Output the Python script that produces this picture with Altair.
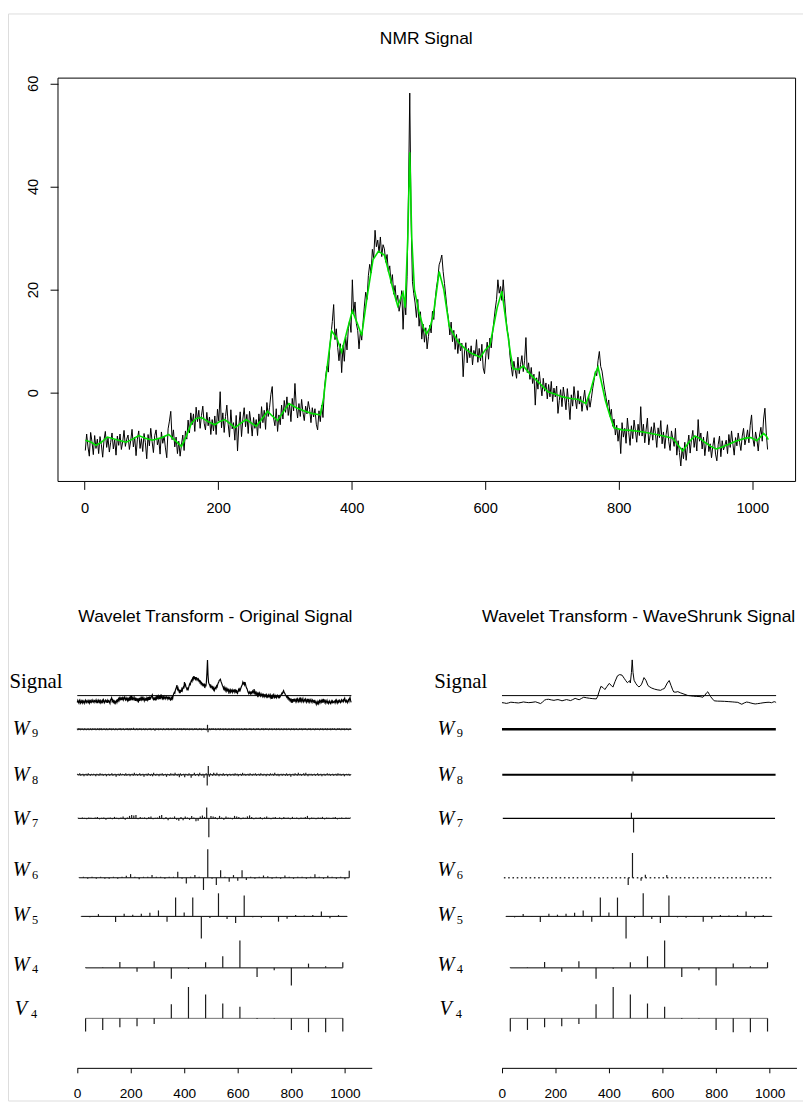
import altair as alt
import pandas as pd

# ------------------------------------------------------------------
# DATA
# ------------------------------------------------------------------
# Top panel: noisy NMR signal, every 2nd sample, 16 blocks of 64 samples
nmr_block_0 = [-11.2,-8,-10.5,-12.3,-7.7,-9.5,-12,-8.3,-10.8,-9,-11.8,-8.5,-10,-12.5,-9.2,-7.5,-10.6,-8.8,-11.5,-9.6,-7.8,-10.9,-9.1,-12.1,-8.4,-10.2,-8,-11,-9.5,-7.3,-10.4,-9]
nmr_block_1 = [-8.2,-11,-9.3,-7.1,-10.5,-8.6,-12.2,-9,-7.4,-10.8,-8.9,-11.4,-7.9,-9.7,-12.8,-8.1,-10.3,-6.9,-9.4,-11.6,-8.3,-7.2,-10.1,-9,-11.9,-7.6,-9.8,-8.4,-10.7,-12.6,-7,-5.5]
nmr_block_2 = [-3.6,-9.1,-7.2,-10.5,-8.6,-11.8,-9.4,-12.3,-10.1,-8.2,-11.2,-7.4,-9,-5.3,-7.8,-3.9,-6.2,-4.1,-7.5,-2.8,-5.6,-3.4,-6.9,-4.4,-2.6,-5.9,-7.2,-3.8,-6.4,-4.7,-8.1,-5.2]
nmr_block_3 = [-7.4,-4.5,-8.1,-3.2,-5.5,0.2,-6.8,-3.9,-7.7,-4.6,-2.4,-6.1,-8.6,-3.3,-7,-5.8,-9.2,-4.4,-11.3,-6.3,-3.7,-8.5,-5.1,-2.9,-6.6,-4.2,-7.9,-3.6,-5.7,-8.4,-4.8,-6.9]
nmr_block_4 = [-5.2,-8.3,-4.1,-6.9,-2.7,-5.8,-3.4,-7.1,-1.9,-4.6,-2.8,-0.3,1.2,-4.9,-6.4,-3.1,-7.5,-4.3,-6.2,-2.4,-5.1,-1.5,-3.8,-0.8,-4.4,-2.2,-5.6,-1.1,-3.5,1.8,-2.7,-4.9]
nmr_block_5 = [-2.1,-4.6,-1.3,-3.8,-5.4,-2.6,-4.1,-1.7,-3.2,-5.8,-2.9,-4.7,-3.1,-6.1,-7.2,-3.5,-5.6,-2.4,-4.8,0.5,3.2,5.1,4,8.6,11.2,13.8,17.1,10.3,12.4,8.8,6.2,9.5]
nmr_block_6 = [3.9,9.2,6.1,10.8,8.3,12.5,14.1,11.7,21.9,15.2,17.6,13.4,12.1,8.5,11.9,10.2,13.6,16.8,19.5,18.1,22.7,24.9,23.2,27.8,26.1,31.5,28.3,29.6,27.1,30.2,26.4,28.7]
nmr_block_7 = [27.9,25.3,26.8,23.4,24.6,21.2,22.9,19.1,20.8,17.6,18.9,15.8,17.2,19.8,12.3,18.4,15.1,22.5,38,58.1,33.5,21.6,19.2,17.4,14.6,18.1,12.9,15.7,10.4,13.3,9.8,12.6]
nmr_block_8 = [8.5,10.9,13.1,11.6,15.8,14.2,17.9,20.4,22.1,24.8,25.6,26.7,23.5,21.2,18.7,16.1,14.3,11.2,13.7,9.9,12.1,8.4,11.3,7.6,10.5,8.1,9.6,3.1,7.9,9.7,5.8,8.6]
nmr_block_9 = [6.8,9.1,5.4,8.2,7.1,10.3,5.9,8.6,6.2,9.4,4.8,3.7,7.3,9.8,6.5,10.6,8.7,11.5,13.9,16.2,18.1,21.9,19.3,20.6,17.9,21.9,18.2,14.7,12.1,10.8,7.3,5.1]
nmr_block_10 = [3.2,6.1,4.4,2.8,6.9,3.7,5.5,7.2,4.1,6.3,10.7,3.9,5.8,2.6,4.9,1.8,3.6,-2.4,2.9,0.7,4.1,1.5,-0.6,2.8,0.3,1.9,-1.2,1.6,-0.8,2.2,-1.7,0.9]
nmr_block_11 = [-0.8,1.3,-4,-1.5,0.6,-2.7,1.1,-0.9,-3.3,0.8,-1.9,-5.2,-0.4,-2.6,1.2,-1.3,-3.1,0.4,-2.2,-0.7,-3.6,-1.4,0.5,-2.3,-3.4,-0.6,-2.8,-1.1,0.8,2.4,4.1,3.3]
nmr_block_12 = [6.2,8,5.1,4.2,2.3,0.6,-0.9,-2.8,-1.4,-4.6,-3.2,-6.5,-5.1,-8.2,-6.3,-9.4,-7.1,-11.8,-5.8,-8.6,-6.9,-9.8,-4.9,-7.7,-10.2,-6.4,-8.9,-5.3,-7.4,-9.6,-6.1,-8.3]
nmr_block_13 = [-2.7,-8.4,-6.1,-9.7,-7.2,-4.9,-10.1,-8.3,-6.6,-9.2,-5.8,-7.9,-10.6,-6.8,-8.7,-5.4,-9.9,-7.6,-10.8,-8.1,-6.2,-9.5,-11.2,-7.4,-8.9,-10.4,-6.9,-12.1,-9.3,-11.6,-14.2,-10.7]
nmr_block_14 = [-12.8,-9.6,-13.1,-10.4,-8.2,-11.7,-9.1,-7.3,-10.6,-8.5,-11.3,-5.2,-9.4,-7.8,-10.9,-8.6,-12.2,-9.8,-7.5,-11.4,-9.9,-12.6,-10.3,-8.7,-11.9,-13.2,-10.1,-8.4,-12.4,-9.3,-11.1,-10.2]
nmr_block_15 = [-9.2,-11.8,-8.1,-10.6,-7.4,-9.9,-12.1,-8.7,-10.3,-7.8,-9.6,-11.2,-8.4,-6.9,-10.1,-8.8,-7.2,-9.7,-6.3,-4.3,-8.9,-10.4,-7.6,-9.1,-11.3,-8.2,-6.7,-9.4,-5.1,-3,-7.8,-11]
nmr_blocks = [nmr_block_0, nmr_block_1, nmr_block_2, nmr_block_3, nmr_block_4, nmr_block_5,
              nmr_block_6, nmr_block_7, nmr_block_8, nmr_block_9, nmr_block_10, nmr_block_11,
              nmr_block_12, nmr_block_13, nmr_block_14, nmr_block_15]

# WaveShrunk (green) signal
smooth_x = [1,10,17,25,34,48,62,72,81,91,101,113,126,135,145,152,160,167,175,185,195,202,210,218,225,233,242,250,257,265,274,281,289,297,306,317,328,340,353,358,363,370,378,385,393,401,408,415,423,432,440,449,457,463,469,474,477,480,484,487,490,494,501,507,512,517,522,527,531,538,546,553,560,570,580,593,600,607,612,618,625,632,638,642,650,657,668,680,694,705,716,728,740,751,758,765,769,775,780,787,793,805,818,832,845,860,870,881,889,896,905,914,922,930,938,946,955,965,975,990,998,1007,1012,1017,1021,1024]
smooth_v = [-9.2,-9.6,-10.2,-9.6,-8.6,-9.1,-9.6,-9.0,-8.3,-8.8,-9.2,-8.8,-8.1,-9.2,-10.4,-8.5,-5.9,-5.0,-4.8,-5.6,-6.2,-5.6,-5.2,-6.0,-6.8,-6.0,-5.2,-5.9,-6.5,-5.2,-3.6,-4.5,-5.4,-3.8,-2.1,-2.9,-3.5,-4.0,-4.3,-1.0,4.7,12.0,10.5,7.9,12.0,15.9,13.6,11.1,18.5,25.8,27.4,26.7,22.6,19.5,16.8,18.5,19.4,16.5,30.0,46.6,30.0,20.0,15.5,12.8,11.4,12.5,14.9,19.5,23.5,20.0,13.0,11.2,9.8,8.5,7.6,6.9,8.3,9.2,12.5,16.5,19.7,13.0,7.5,4.7,4.5,5.2,3.5,2.0,0.2,-0.3,-0.8,-1.1,-1.3,-2.1,0.5,3.8,5.0,1.5,-1.5,-4.5,-6.8,-7.2,-7.3,-7.5,-7.8,-8.2,-8.5,-8.8,-10.2,-11.3,-9.6,-8.4,-8.9,-9.7,-10.4,-10.9,-10.5,-10.0,-9.4,-8.8,-8.7,-9.3,-8.6,-7.9,-8.4,-9.1]

top_x_ticks = [0, 200, 400, 600, 800, 1000]
top_y_ticks = [0, 20, 40, 60]
bottom_x_ticks = [0, 200, 400, 600, 800, 1000]

# Wavelet coefficients of the original signal (display heights, figure px)
w9_orig_halfpx = [
 1,-2,2,-1,1,2,-2,1,-1,2,-1,1,-2,1,2,-1,1,-2,1,-1,2,1,-2,1,-1,2,-1,-2,1,2,-1,1,
 -1,2,1,-2,1,-1,2,-1,1,-2,2,1,-1,2,-2,1,-1,1,2,-1,1,-2,1,2,-1,-2,1,-1,2,1,-1,2,
 -2,1,-1,2,1,-1,-2,1,2,-1,1,-2,1,-1,2,1,-1,2,-2,1,1,-1,2,-1,-2,1,-1,2,1,-1,2,-2,
 1,-1,2,-2,1,2,-1,1,-1,3,-1,1,-2,1,-1,2,1,-2,1,-1,2,-1,1,2,-2,1,-1,1,2,-1,-2,1,
 2,-1,1,-2,1,-1,2,1,-1,2,-2,1,-1,1,2,-1,1,-3,1,2,-1,1,-1,2,-2,1,1,-1,2,-1,1,-2,
 1,2,-1,1,-2,1,-1,2,1,-1,2,-2,1,-1,1,2,-2,1,-1,2,1,-1,2,-1,1,-2,1,2,-1,1,-1,2,
 -1,1,2,-2,1,-1,2,-1,1,2,-2,1,-1,2,1,-1,1,-2,2,-1,1,-1,2,1,-2,1,-1,2,-1,1,2,-1,
 1,-2,1,-1,2,1,-1,2,-2,1,-1,1,2,-1,1,-1,1,-2,1,9,-6,1,-1,2,-2,1,-1,2,1,-1,2,-1,
 1,-1,2,-2,1,-1,1,2,-1,1,-2,2,1,-1,1,-1,2,-2,1,1,-1,2,-1,1,-2,1,-1,2,1,-2,1,-1,
 2,-1,1,-2,2,1,-1,1,-2,1,2,-1,1,-1,2,-2,1,-1,1,2,-1,-2,1,-1,2,1,-1,2,-2,1,-1,1,
 -1,2,1,-1,2,-2,1,-1,1,2,-1,1,-2,1,-1,2,1,-1,2,-1,1,-2,1,-1,2,-1,1,2,-2,1,-1,2,
 1,-1,2,-1,1,-2,1,2,-1,1,-1,2,-2,1,1,-1,2,-1,1,-2,2,-1,1,-1,2,1,-2,1,-1,2,-1,1,
 -2,1,2,-1,1,-1,2,-2,1,-1,1,2,-1,1,-2,1,2,-1,1,-1,2,-2,1,1,-1,2,-1,1,-2,1,-1,2,
 1,-1,1,2,-2,1,-1,2,1,-1,2,-1,1,-2,1,-1,2,1,-1,2,-2,1,-1,1,2,-1,1,-2,1,2,-1,1,
 -1,2,-1,1,-2,1,2,-1,1,-1,2,-2,1,-1,1,2,-1,1,-2,2,1,-1,1,-1,2,-2,1,-1,2,1,-1,1,
 2,-1,1,-2,1,-1,2,1,-1,2,-1,1,-2,1,2,-1,1,-1,2,-2,1,-1,1,2,-1,1,-2,1,-1,2,1,-1]
w8_orig = [
 1,-0.5,1.5,-1,0.5,1,-1.5,0.5,1,-1,1.5,0.5,-1,1,-0.5,1,
 0.5,-1.5,1,0.5,-1,1.5,-0.5,1,-1,0.5,1,-1.5,0.5,1,-1,0.5,
 1.5,-1,0.5,1,-2,0.5,1,-1,1.5,-0.5,1,0.5,-1,1.5,-1,0.5,
 1,-1.5,0.5,1,-1,2,-0.5,1,-1,0.5,1.5,-1,0.5,1,-2,0.5,
 1,-1,1.5,0.5,-1,1,-1.5,2,0.5,-1,1,0.5,-1.5,1,-0.5,1.5,
 -1,0.5,1,-2,1,0.5,-1,1.5,-0.5,1,-1,2,0.5,-1,1,-2.5,
 1.5,-1,0.5,1,-2.5,1,0.5,-1,1.5,-0.5,-3,-1,0.5,2,-1,0.5,
 1,-1.5,2,0.5,-1,1,-3,0.5,1.5,-10.7,9,-2,1.5,0.5,-1,2,
 1,-1,2,0.5,-1.5,1,0.5,-1,1.5,-1,0.5,1,-1.5,0.5,1,-1,
 0.5,1,-1,1.5,-0.5,1,-1.5,0.5,1,-1,2,-0.5,1,-1,0.5,1,
 -1,1.5,0.5,-1,1,-0.5,1.5,-1,0.5,1,-1,1.5,0.5,-1,1,0.5,
 -1.5,1,0.5,-1,1.5,-0.5,1,-1,2,0.5,-1,1,-1.5,0.5,1,-1,
 1,0.5,-1,1.5,-1,0.5,1,-2,0.5,1,-1,1.5,0.5,-1,2,-0.5,
 1,-1,0.5,1.5,-1,2,0.5,-1.5,1,-0.5,1,-1,0.5,1,-1,0.5,
 1.5,-1,0.5,1,-1.5,0.5,1,-1,0.5,1.5,-0.5,1,-1,0.5,1,-1,
 0.5,1,-1,1.5,-0.5,1,-1,0.5,1,-1.5,0.5,1,-0.5,1,-1,0.5]
w7_orig = [
 0.5,-0.5,1,0.5,-1,1,0.5,-0.5,1,1.5,-1,0.5,1,-1.5,0.5,1,
 -1,1.5,0.5,-1,1,2,-1.5,1,2.5,3.5,3,3.5,-1,1.5,0.5,1,
 -1,1.5,2,-1,0.5,1,2.5,3.5,-1,1.5,-2,1,0.5,2,-1.5,-2.5,
 1.5,-2,2,1,-1.5,2.5,1,-3,-2.5,2,3,1.5,11,-19,2.5,2,
 1.5,-1,2.5,1,-1.5,2,1,0.5,-1,2.5,2,1.5,-1,1,0.5,2,
 3,1.5,-1,1,0.5,1.5,-1,1,2,0.5,-1,1,1.5,-0.5,1,-1,
 1.5,0.5,1,-1,1.5,0.5,1,-1,1,0.5,1.5,2.5,-1,1,0.5,-1,
 1,0.5,1.5,-1,1,0.5,-0.5,1,1.5,-1,0.5,1,-0.5,1,0.5,1]
w6_orig = [0.5,1,-1,1,-1,1,-1,-1,1,-1,1,2,3.7,1,-1.5,1,
           1,2.7,1,1,-1,1,1,6,-1,-5.7,1,2.7,1,-12.3,28.7,-1,
           -7.3,7.7,1,-4,2.7,-3,7.7,-2.3,1,-1,1,2.3,1.5,-1,1,-1,
           2.3,1,-1,1,1,-1,1,3.5,1,-1,2,1,-1,1,-1.5,7]
w5_coef = [0.5,-1,2.3,0.5,-5.7,2.7,1.7,2.7,3.7,6,-5.3,19,4,19,-22.3,-1.7,
           23.3,-2.7,-6.7,21,-1,-1.3,0.5,-5.3,-2.3,1.3,1,1.3,5,-2,1.3,0.5]
w4_coef = [0.5,0.5,6,-4,6.7,-11,-1,5.7,11.7,27.7,-9.3,-2.3,-17.7,4.3,1.7,5.7]
v4_coef = [-13.3,-11.7,-9,-8,-5.7,14.3,31.7,24,15,11.7,-0.7,-0.5,-11.7,-14,-14,-13.3]

# WaveShrunk coefficients: everything zero except these read entries
w9_shrunk_nonzero = {}
w8_shrunk_nonzero = {121: -6.7, 122: 3.3}
w7_shrunk_nonzero = {60: 5.7, 61: -14.3}
w6_shrunk_nonzero = {29: -7.3, 30: 25.0, 32: -3.0, 33: 3.0, 38: 2.7}

titles = ["NMR Signal", "Wavelet Transform - Original Signal", "Wavelet Transform - WaveShrunk Signal"]
row_names = ["W", "W", "W", "W", "W", "W", "V"]
row_subs = ["9", "8", "7", "6", "5", "4", "4"]

# ------------------------------------------------------------------
# LAYOUT (pixels inside the 803 x 1098 view)
# ------------------------------------------------------------------
W, H = 803, 1098
TOP_XDOM, TOP_XRNG = [-39.92, 1064.92], [50.5, 795.5]
TOP_YDOM, TOP_YRNG = [-17.2, 61.0], [472.7, 65.3]
BOT_XDOM = [0, 1100]
LEFT_XRNG, RIGHT_XRNG = [69.7, 367.4], [498.7, 796.4]
BOT_YDOM, BOT_YRNG = [0, 450], [1065, 615]

SIG_BASE = 376
LEVEL_BASE = {"W9": 342, "W8": 296, "W7": 252, "W6": 192, "W5": 153, "W4": 101, "V4": 50}
LABEL_BASELINE = [336.3, 289.7, 245.3, 193.7, 148, 98, 53]
SIGNAL_LABEL_BASELINE = 383.7
LEFT_BASE_WIDTH = {}
RIGHT_BASE_WIDTH = {"W9": 2.6, "W8": 1.9, "W7": 1.1}
RIGHT_DOTTED = ["W6"]


def lin(dom, rng):
    return alt.Scale(domain=dom, range=rng, nice=False, zero=False)


sx_top, sy_top = lin(TOP_XDOM, TOP_XRNG), lin(TOP_YDOM, TOP_YRNG)
sy_bot = lin(BOT_YDOM, BOT_YRNG)

# ---------------- top panel ----------------
noisy_rows = []
for b, block in enumerate(nmr_blocks):
    for i, v in enumerate(block):
        noisy_rows.append({"x": 1 + 64 * b + 2 * i, "v": v})
df_noisy = pd.DataFrame(noisy_rows)
df_smooth = pd.DataFrame({"x": smooth_x[:len(smooth_v)], "v": smooth_v[:len(smooth_x)]})

box = alt.Chart(pd.DataFrame({"x0": [TOP_XDOM[0]], "x1": [TOP_XDOM[1]],
                              "y0": [TOP_YDOM[0]], "y1": [TOP_YDOM[1]]})).mark_rect(
    filled=False, stroke="black", strokeWidth=1).encode(
    x=alt.X("x0:Q", scale=sx_top, axis=None), x2="x1:Q",
    y=alt.Y("y0:Q", scale=sy_top, axis=None), y2="y1:Q")

top_xaxis = alt.Axis(values=top_x_ticks, orient="bottom", offset=TOP_YRNG[0] - H, format="d",
                     domain=False, grid=False, tickSize=8, tickColor="black", tickWidth=1,
                     labelColor="black", labelFont="Liberation Sans", labelFontSize=14.8,
                     labelPadding=11, labelFlush=False, labelOverlap=False, title=None)
top_yaxis = alt.Axis(values=top_y_ticks, orient="left", offset=-TOP_XRNG[0], format="d",
                     domain=False, grid=False, tickSize=8, tickColor="black", tickWidth=1,
                     labelColor="black", labelFont="Liberation Sans", labelFontSize=14.8,
                     labelAngle=-90, labelAlign="center", labelBaseline="alphabetic",
                     labelPadding=13, labelFlush=False, labelOverlap=False, title=None)

noisy = alt.Chart(df_noisy).mark_line(color="black", strokeWidth=1).encode(
    x=alt.X("x:Q", scale=sx_top, axis=top_xaxis),
    y=alt.Y("v:Q", scale=sy_top, axis=top_yaxis))
smooth = alt.Chart(df_smooth).mark_line(color="#00e000", strokeWidth=1.6).encode(
    x=alt.X("x:Q", scale=sx_top, axis=None),
    y=alt.Y("v:Q", scale=sy_top, axis=None))


def text_layer(txt, px, py, size):
    return alt.Chart(pd.DataFrame({"t": [txt]})).mark_text(
        font="Liberation Sans", fontSize=size, color="black", align="center",
        baseline="alphabetic").encode(text="t:N", x=alt.value(px), y=alt.value(py))


title_top = text_layer(titles[0], 422.5, 31, 17.6)


# ---------------- bottom panels ----------------
def panel(xrng, sig_x, sig_v, sig_k, levels, title, title_x, sig_width, base_width, dotted):
    sx = lin(BOT_XDOM, xrng)
    coef_rows = []
    base_rows = [{"x0": 1, "x1": 1024, "u": SIG_BASE, "lvl": "Signal", "bw": 1.0}]
    dot_rows = []
    for name, start, step, vals, unit in levels:
        base = LEVEL_BASE[name]
        for k, v in enumerate(vals):
            if v != 0:
                coef_rows.append({"pos": start + step * k, "u0": base, "u1": base + v * unit})
        row = {"x0": start, "x1": start + step * (len(vals) - 1), "u": base, "lvl": name,
               "bw": base_width.get(name, 1.0)}
        (dot_rows if name in dotted else base_rows).append(row)
    df_coef, df_base = pd.DataFrame(coef_rows), pd.DataFrame(base_rows)
    df_sig = pd.DataFrame({"x": sig_x, "u": [SIG_BASE + sig_k * v for v in sig_v]})

    axis = alt.Axis(values=bottom_x_ticks, orient="bottom", offset=BOT_YRNG[0] - H, format="d",
                    domain=True, domainColor="black", domainWidth=1, grid=False,
                    tickSize=5, tickColor="black", tickWidth=1, labelColor="black",
                    labelFont="Liberation Sans", labelFontSize=13.8, labelPadding=14,
                    labelFlush=False, labelOverlap=False, title=None)
    layers = []
    layers.append(alt.Chart(df_base).mark_rule().encode(
        x=alt.X("x0:Q", scale=sx, axis=axis), x2="x1:Q",
        y=alt.Y("u:Q", scale=sy_bot, axis=None),
        strokeWidth=alt.StrokeWidth("bw:Q", scale=None),
        color=alt.condition(alt.datum.lvl == "V4", alt.value("#707070"), alt.value("black"))))
    if dot_rows:
        layers.append(alt.Chart(pd.DataFrame(dot_rows)).mark_rule(
            strokeWidth=1.5, strokeDash=[1.6, 2.73], color="#333333").encode(
            x=alt.X("x0:Q", scale=sx, axis=None), x2="x1:Q",
            y=alt.Y("u:Q", scale=sy_bot, axis=None)))
    layers.append(alt.Chart(df_coef).mark_rule(strokeWidth=1.2, color="#1a1a1a").encode(
        x=alt.X("pos:Q", scale=sx, axis=None),
        y=alt.Y("u0:Q", scale=sy_bot, axis=None), y2="u1:Q"))
    layers.append(alt.Chart(df_sig).mark_line(color="black", strokeWidth=sig_width).encode(
        x=alt.X("x:Q", scale=sx, axis=None),
        y=alt.Y("u:Q", scale=sy_bot, axis=None)))
    layers.append(alt.Chart(pd.DataFrame({"t": ["Signal"], "lx": [-252], "ly": [SIGNAL_LABEL_BASELINE]})).mark_text(
        font="Liberation Serif", fontSize=21, color="black", align="left", baseline="alphabetic").encode(
        text="t:N", x=alt.X("lx:Q", scale=sx, axis=None), y=alt.Y("ly:Q", scale=sy_bot, axis=None)))
    df_lab = pd.DataFrame({"t": row_names,
                           "lx": [-240 if n == "W" else -232 for n in row_names],
                           "ly": LABEL_BASELINE})
    layers.append(alt.Chart(df_lab).mark_text(
        font="Liberation Serif", fontStyle="italic", fontSize=20.5, color="black",
        align="left", baseline="alphabetic").encode(
        text="t:N", x=alt.X("lx:Q", scale=sx, axis=None), y=alt.Y("ly:Q", scale=sy_bot, axis=None)))
    df_sub = pd.DataFrame({"t": row_subs,
                           "lx": [-168 if n == "W" else -172 for n in row_names],
                           "ly": [b - 2.5 for b in LABEL_BASELINE]})
    layers.append(alt.Chart(df_sub).mark_text(
        font="Liberation Serif", fontSize=12.5, color="black", align="left", baseline="alphabetic").encode(
        text="t:N", x=alt.X("lx:Q", scale=sx, axis=None), y=alt.Y("ly:Q", scale=sy_bot, axis=None)))
    layers.append(text_layer(title, title_x, 614.5, 17.6))
    return layers


def full(nonzero, n):
    return [nonzero.get(k, 0.0) for k in range(n)]


left_levels = [("W9", 1, 2, w9_orig_halfpx, 0.5), ("W8", 2, 4, w8_orig, 1), ("W7", 4, 8, w7_orig, 1),
               ("W6", 8, 16, w6_orig, 1), ("W5", 16, 32, w5_coef, 1), ("W4", 32, 64, w4_coef, 1),
               ("V4", 32, 64, v4_coef, 1)]
right_levels = [("W9", 1, 2, full(w9_shrunk_nonzero, 512), 0.5), ("W8", 2, 4, full(w8_shrunk_nonzero, 256), 1),
                ("W7", 4, 8, full(w7_shrunk_nonzero, 128), 1), ("W6", 8, 16, full(w6_shrunk_nonzero, 64), 1),
                ("W5", 16, 32, w5_coef, 1), ("W4", 32, 64, w4_coef, 1), ("V4", 32, 64, v4_coef, 1)]

left_layers = panel(LEFT_XRNG, df_noisy["x"].tolist(), df_noisy["v"].tolist(), 0.62,
                    left_levels, titles[1], 209.5, 1.2, LEFT_BASE_WIDTH, [])
right_layers = panel(RIGHT_XRNG, df_smooth["x"].tolist(), df_smooth["v"].tolist(), 0.774,
                     right_levels, titles[2], 637, 1.0, RIGHT_BASE_WIDTH, RIGHT_DOTTED)

chart = alt.layer(box, noisy, smooth, title_top, *left_layers, *right_layers).resolve_scale(
    x="independent", y="independent").properties(
    width=W, height=H, autosize=alt.AutoSizeParams(type="none"), padding=0
).configure_view(stroke="transparent", strokeWidth=0).configure(font="Liberation Sans")

chart.save("out.html", embed_options={"renderer": "svg", "actions": False})
